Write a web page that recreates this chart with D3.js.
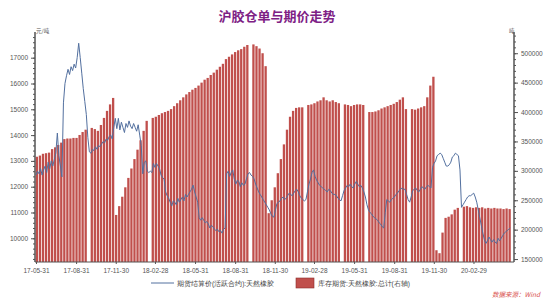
<!DOCTYPE html>
<html>
<head>
<meta charset="utf-8">
<script src="https://cdn.jsdelivr.net/npm/d3@7"></script>
<style>
  body { margin: 0; background: #fff; }
  text { font-family: "Liberation Sans", "DejaVu Sans", sans-serif; }
  .cn { font-family: "Noto Sans CJK SC", sans-serif; }
</style>
</head>
<body>
<svg width="550" height="300"></svg>
<script>
// weekly total rubber stock (tons), one value per Friday from 2017-06-02, null = holiday week
var stockStart = "2017-06-02";
var stocks = [
  324000, 326000, 329000, 330000, 331000, 337000, 340000, 344000, 348000, 354000,
  355000, 355000, 356000, 356000, 361000, 366000, 370000, null, 373000, 371000,
  368000, 378000, 390000, 402000, 413000, 424000, 225000, 240000, 256000, 272000,
  288000, 304000, 320000, 336000, 352000, 368000, 385000, null, 390000, 392000,
  395000, 398000, 400000, 402000, 405000, 410000, 415000, 420000, 425000, 430000,
  434000, 438000, 441000, 445000, 450000, 455000, 458000, 463000, 467000, 472000,
  477000, 482000, 490000, 494000, 498000, 502000, 505000, 507000, 511000, 514000,
  null, 515000, 512000, 508000, 500000, 478000, 228000, 250000, 272000, 296000,
  320000, 345000, 370000, 392000, 402000, 407000, 408000, 408000, null, 412000,
  413000, 415000, 418000, 420000, 425000, 420000, 418000, 420000, 417000, 415000,
  null, 413000, 412000, 410000, 412000, 413000, 413000, 412000, null, 400000,
  400000, 401000, 403000, 406000, 408000, 410000, 412000, 414000, 417000, 421000,
  425000, 405000, null, 405000, 404000, 406000, 408000, 410000, 425000, 445000,
  460000, 165000, 160000, 195000, 220000, 222000, 226000, 234000, 237000, null,
  239000, 240000, 238000, 237000, 238000, 237000, 238000, 236000, 237000, 236000,
  237000, 236000, 236000, 235000, 236000, 235000
];

// active-contract settlement price (yuan/ton), one value every 3.5 days from 2017-05-31
var priceStart = "2017-05-31";
var prices = [
  12450, 12600, 12500, 12700, 12450, 12650, 12800, 12550, 12950, 12700,
  13000, 12800, 13050, 13300, 14080, 13200, 12800, 12380, 15250, 16000,
  16300, 16550, 16350, 16650, 16500, 16750, 16600, 17000, 17560, 17000,
  16400, 15800, 15300, 14800, 13900, 13350, 13300, 13450, 13400, 13550,
  13450, 13600, 13550, 13650, 13750, 13700, 13850, 13800, 13950, 14000,
  13850, 14300, 14650, 14250, 14650, 14200, 14500, 14300, 14100, 14450,
  14300, 14550, 14350, 14250, 14450, 14300, 14150, 14400, 14000, 13600,
  12500, 12950, 13000, 12600, 12550, 12600, 12550, 12900, 12750, 12900,
  12800, 12700, 12450, 12350, 12300, 11800, 11650, 11550, 11400, 11250,
  11450, 11400, 11300, 11550, 11400, 11500, 11600, 11450, 11700, 11600,
  11700, 11800, 11900, 12060, 11800, 11600, 11400, 10800, 10700, 10800,
  10700, 10600, 10650, 10550, 10400, 10500, 10450, 10350, 10300, 10350,
  10250, 10300, 10200, 10350, 10400, 12500, 12600, 12400, 12550, 12650,
  12300, 12100, 12250, 12200, 12000, 12150, 12050, 12100, 12300, 12500,
  12550, 12450, 12400, 12300, 12100, 11950, 11800, 11700, 11600, 11500,
  11400, 11300, 11200, 11100, 10950, 10850, 10820, 11100, 11350, 11400,
  11450, 11550, 11600, 11500, 11550, 11650, 11750, 11700, 11650, 11750,
  11850, 11900, 11800, 11650, 11550, 11500, 11450, 11500, 11800, 12100,
  12300, 12550, 12650, 12400, 12250, 12150, 12050, 12000, 11950, 11900,
  11850, 11800, 11900, 11850, 11750, 11700, 11700, 11650, 11550, 11500,
  11450, 11650, 11850, 11950, 12050, 12000, 12100, 12000, 11950, 12100,
  12200, 12100, 12000, 12050, 11950, 11800, 11600, 11300, 11100, 11000,
  10950, 10850, 10800, 10750, 10700, 10600, 10550, 10450, 10400, 11000,
  11500, 11450, 11400, 11500, 11550, 11600, 11700, 11750, 11850, 11900,
  11950, 11900, 11900, 11700, 11500, 11400, 11600, 11850, 11900, 11950,
  11850, 11800, 11900, 12000, 11950, 11900, 12000, 12050, 12000, 11950,
  12750, 12900, 13000, 13200, 13250, 13300, 13250, 13100, 12950, 12800,
  12800, 12850, 12950, 13150, 13200, 13300, 13250, 13200, 12650, 11200,
  11300, 11400, 11500, 11600, 11650, 11650, 11700, 11750, 11600, 11400,
  11100, 10800, 10500, 10200, 9950, 9800, 9900, 10050, 9950, 9850,
  9950, 9850, 9800, 10000, 9900, 10000, 10100, 10200, 10250, 10300,
  10350, 10400
];

var xTicks = ["17-05-31", "17-08-31", "17-11-30", "18-02-28", "18-05-31", "18-08-31",
              "18-11-30", "19-02-28", "19-05-31", "19-08-31", "19-11-30", "20-02-29"];
var leftTicks = [10000, 11000, 12000, 13000, 14000, 15000, 16000, 17000];
var rightTicks = [150000, 200000, 250000, 300000, 350000, 400000, 450000, 500000];

var title = "沪胶仓单与期价走势";
var lineName = "期货结算价(活跃合约):天然橡胶";
var barName = "库存期货:天然橡胶:总计(右轴)";

var svg = d3.select("svg");
var parse = d3.timeParse("%Y-%m-%d");
var parseTick = d3.timeParse("%y-%m-%d");
var plotL = 35, plotR = 514, plotT = 35, plotB = 262;

var x = d3.scaleTime()
    .domain([parse("2017-05-31"), parse("2020-06-01")])
    .range([36, 514]);
var yL = d3.scaleLinear().domain([9081, 17880]).range([plotB, plotT]);
var yR = d3.scaleLinear().domain([145000, 531000]).range([plotB, plotT]);

var s0 = parse(stockStart);
var stockData = stocks.map(function (v, i) {
    return { date: d3.timeDay.offset(s0, 7 * i), v: v };
}).filter(function (d) { return d.v != null; });

var p0 = parse(priceStart).getTime();
var priceData = prices.map(function (v, j) {
    return { date: new Date(p0 + j * 3.5 * 864e5), v: v };
});

// bars
svg.append("g").selectAll("rect")
    .data(stockData)
    .enter()
    .append("rect")
    .attr("x", function (d) { return x(d.date) - 1.15; })
    .attr("width", 2.3)
    .attr("y", function (d) { return yR(d.v); })
    .attr("height", function (d) { return plotB - yR(d.v); })
    .attr("fill", "#c04f4c");

// price line
svg.append("path")
    .datum(priceData)
    .attr("d", d3.line()
        .x(function (d) { return x(d.date); })
        .y(function (d) { return yL(d.v); }))
    .attr("fill", "none")
    .attr("stroke", "#53709f")
    .attr("stroke-width", 1);

// axes
var gL = svg.append("g").attr("transform", "translate(" + plotL + ",0)");
gL.append("g").call(d3.axisLeft(yL).tickValues(d3.range(9200, 17801, 200)).tickSize(2).tickFormat(""));
gL.append("g").call(d3.axisLeft(yL).tickValues(leftTicks).tickSize(4).tickFormat(d3.format("d")));
gL.selectAll(".domain").attr("d", "M0," + (plotT - 3) + "V" + plotB);

var gR = svg.append("g").attr("transform", "translate(" + plotR + ",0)");
gR.append("g").call(d3.axisRight(yR).tickValues(d3.range(150000, 530001, 10000)).tickSize(2).tickFormat(""));
gR.append("g").call(d3.axisRight(yR).tickValues(rightTicks).tickSize(4).tickFormat(d3.format("d")));
gR.selectAll(".domain").attr("d", "M0," + (plotT - 3) + "V" + plotB);

var gX = svg.append("g").attr("transform", "translate(0," + plotB + ")");
gX.call(d3.axisBottom(x).tickValues(xTicks.map(parseTick)).tickSize(2)
    .tickFormat(d3.timeFormat("%y-%m-%d")));
gX.select(".domain").attr("d", "M" + plotL + ",0H" + plotR);

svg.selectAll(".domain, .tick line").attr("stroke", "#555");
svg.selectAll(".tick text").attr("fill", "#555").attr("font-size", 6.5);
gX.selectAll(".tick text").attr("dy", "0.9em");

// units
svg.append("text").attr("class", "cn").attr("x", 36).attr("y", 33)
    .attr("font-size", 5.5).attr("fill", "#555").text("元/吨");
svg.append("text").attr("class", "cn").attr("x", 509).attr("y", 33)
    .attr("font-size", 5.5).attr("fill", "#555").text("吨");

// title
svg.append("text").attr("class", "cn")
    .attr("x", 277).attr("y", 21).attr("text-anchor", "middle")
    .attr("font-size", 13).attr("font-weight", "bold").attr("fill", "#7e2185")
    .text(title);

// legend
var lg = svg.append("g").attr("class", "cn");
lg.append("line").attr("x1", 151).attr("x2", 174).attr("y1", 283).attr("y2", 283)
    .attr("stroke", "#53709f").attr("stroke-width", 1);
lg.append("text").attr("x", 177).attr("y", 285.5).attr("font-size", 6.5).attr("fill", "#444")
    .text(lineName);
lg.append("rect").attr("x", 296).attr("y", 278).attr("width", 18).attr("height", 10)
    .attr("fill", "#c04f4c").attr("stroke", "#8a2e2c").attr("stroke-width", 0.6);
lg.append("text").attr("x", 318).attr("y", 285.5).attr("font-size", 6.5).attr("fill", "#444")
    .text(barName);

// source
svg.append("text").attr("class", "cn")
    .attr("x", 540).attr("y", 297).attr("text-anchor", "end")
    .attr("font-size", 6.5).attr("font-style", "italic").attr("fill", "#d9534f")
    .text("数据来源：Wind");
</script>
</body>
</html>
